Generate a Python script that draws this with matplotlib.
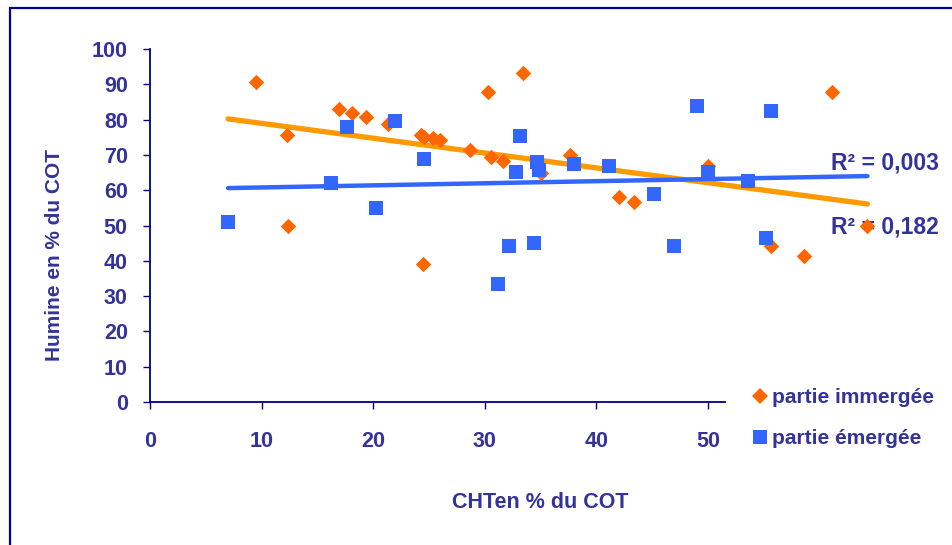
import matplotlib

matplotlib.use("Agg")

import matplotlib.pyplot as plt
from matplotlib.lines import Line2D
from matplotlib.patches import Rectangle

plt.rcParams["font.family"] = ["Liberation Sans", "DejaVu Sans"]

# partie immergée (orange diamonds)
immergee_x = [9.5, 12.3, 12.4, 16.9, 18.1, 19.4, 21.3, 24.3, 24.6, 25.4, 26.0, 24.5,
              28.7, 30.3, 30.6, 31.6, 33.4, 35.0, 37.6, 42.0, 43.4, 50.0, 61.1,
              55.7, 58.6, 64.3]
immergee_y = [90.7, 75.6, 49.9, 83.0, 81.9, 80.7, 78.8, 75.6, 75.0, 74.8, 74.2, 39.1,
              71.4, 87.8, 69.4, 68.3, 93.2, 65.0, 70.0, 58.1, 56.7, 66.9, 87.8,
              44.2, 41.4, 49.9]

# partie émergée (blue squares)
emergee_x = [7.0, 16.2, 17.7, 20.3, 22.0, 24.6, 31.2, 32.2, 34.4, 33.2, 32.8, 34.7,
             34.9, 38.0, 41.1, 45.2, 49.0, 50.0, 53.6, 55.7, 55.2, 47.0]
emergee_y = [51.0, 62.0, 77.9, 55.0, 79.6, 68.8, 33.4, 44.2, 45.0, 75.4, 65.2, 68.0,
             65.7, 67.4, 66.9, 58.9, 83.9, 65.2, 62.6, 82.4, 46.5, 44.2]

# linear trend lines
trend_x = [7.0, 64.3]
trend_immergee_y = [80.2, 56.1]
trend_emergee_y = [60.6, 64.0]

r2_emergee = "R² = 0,003"
r2_immergee = "R² = 0,182"

x_ticks = [0, 10, 20, 30, 40, 50]
y_ticks = list(range(0, 101, 10))

TEXT = "#333399"
AXIS = "#000080"
ORANGE = "#FF6600"
ORANGE_LINE = "#FF9900"
BLUE = "#3366FF"

fig = plt.figure(figsize=(9.52, 5.45), dpi=100)
ax = fig.add_axes([150 / 952, 1 - 402 / 545, 781 / 952, 353 / 545])

ax.plot(trend_x, trend_immergee_y, color=ORANGE_LINE, linewidth=3.8,
        solid_capstyle="round", zorder=2)
ax.plot(trend_x, trend_emergee_y, color=BLUE, linewidth=3.2,
        solid_capstyle="round", zorder=2)
ax.scatter(immergee_x, immergee_y, marker="D", s=62, color=ORANGE,
           linewidths=0, zorder=3)
ax.scatter(emergee_x, emergee_y, marker="s", s=100, color=BLUE,
           linewidths=0, zorder=4)

ax.set_xlim(0, 70)
ax.set_ylim(0, 100)
ax.set_xticks(x_ticks)
ax.set_yticks(y_ticks)
ax.spines["top"].set_visible(False)
ax.spines["right"].set_visible(False)
ax.spines["bottom"].set_bounds(0, 51.5)
for side in ("left", "bottom"):
    ax.spines[side].set_color(AXIS)
    ax.spines[side].set_linewidth(1.3)
ax.tick_params(axis="both", colors=AXIS, labelcolor=TEXT, length=5, width=1,
               direction="out", labelsize=15.5)
ax.tick_params(axis="y", pad=11)
ax.tick_params(axis="x", pad=16)
for lbl in ax.get_xticklabels() + ax.get_yticklabels():
    lbl.set_fontweight("bold")

ax.text(65.9, 67.6, r2_emergee, color=TEXT, fontsize=16.5, fontweight="bold",
        ha="center", va="center", zorder=1)
ax.text(65.9, 49.6, r2_immergee, color=TEXT, fontsize=16.5, fontweight="bold",
        ha="center", va="center", zorder=1)

fig.text(55 / 952, 1 - 255 / 545, "Humine en % du COT", rotation=90,
         color=TEXT, fontsize=15, fontweight="bold", ha="center", va="center")
fig.text(540 / 952, 1 - 502 / 545, "CHTen % du COT", color=TEXT,
         fontsize=15.5, fontweight="bold", ha="center", va="center")

handles = [
    Line2D([], [], linestyle="none", marker="D", markersize=8,
           markerfacecolor=ORANGE, markeredgewidth=0, label="partie immergée"),
    Line2D([], [], linestyle="none", marker="s", markersize=10,
           markerfacecolor=BLUE, markeredgewidth=0, label="partie émergée"),
]
leg = fig.legend(handles=handles, loc="upper left",
                 bbox_to_anchor=(745 / 952, 1 - 380 / 545), frameon=False,
                 handlelength=0.6, handletextpad=0.3, labelspacing=1.05,
                 borderaxespad=0, prop={"size": 15, "weight": "bold"})
for t in leg.get_texts():
    t.set_color(TEXT)

# outer chart frame (only the left and top edges are in view)
fig.patches.append(Rectangle((10 / 952, -0.1), 1.2, 1 - 8 / 545 + 0.1,
                             transform=fig.transFigure, fill=False,
                             edgecolor="#000099", linewidth=1.6))

fig.savefig("out.png", dpi=100)
plt.close(fig)
